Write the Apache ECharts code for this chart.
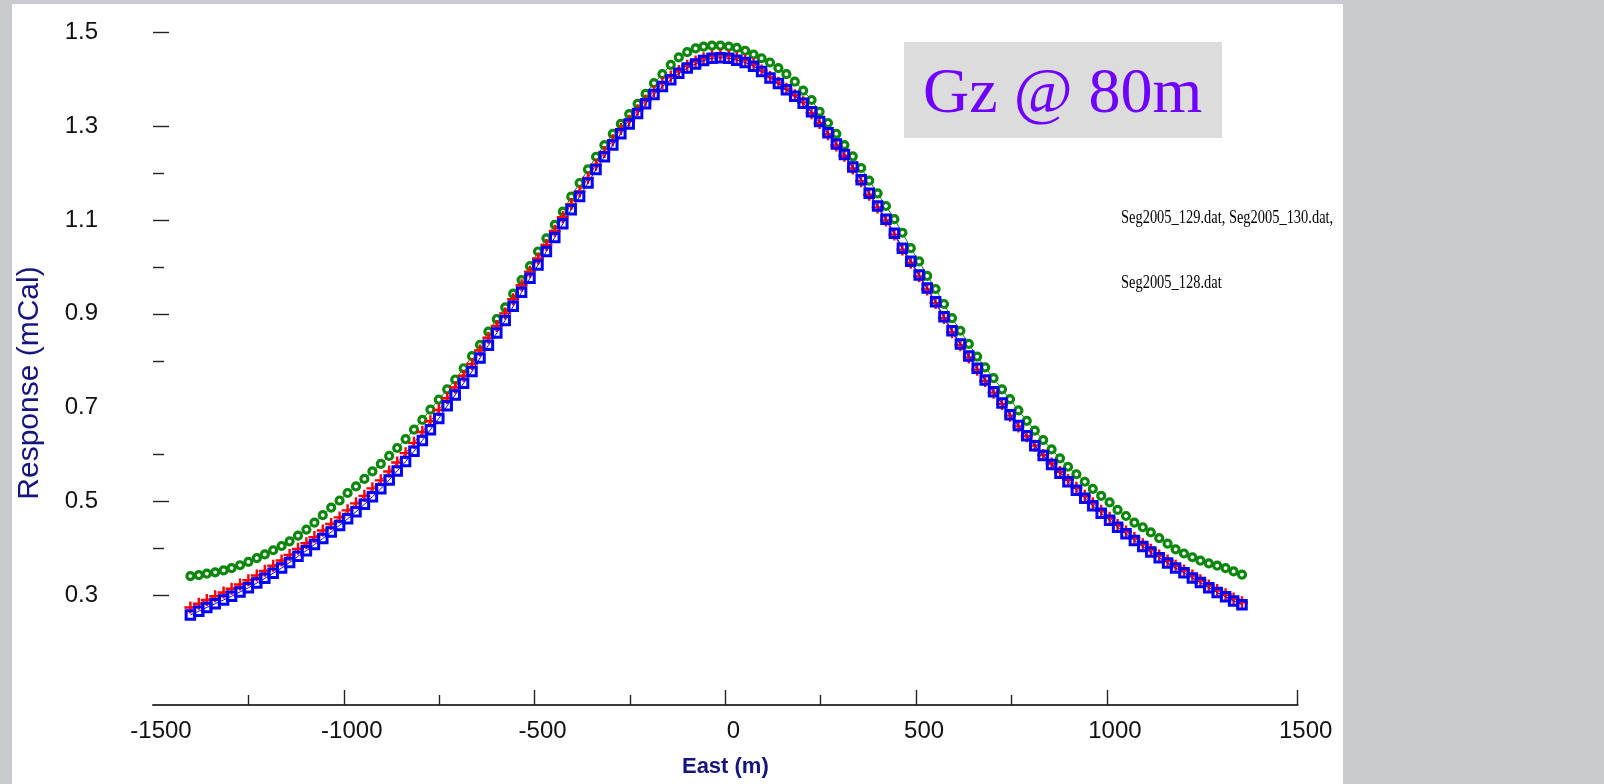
<!DOCTYPE html>
<html>
<head>
<meta charset="utf-8">
<title>Gz @ 80m</title>
<script src="https://cdn.jsdelivr.net/npm/echarts@6.0.0/dist/echarts.min.js"></script>
<style>
  html, body { margin: 0; padding: 0; width: 1604px; height: 784px; overflow: hidden; background: #cacbcf; }
  #panel { position: absolute; left: 12px; top: 4px; width: 1331px; height: 780px; background: #ffffff; }
  #chart { position: absolute; left: 0; top: 0; width: 1604px; height: 784px; }
</style>
</head>
<body>
<div id="panel"></div>
<div id="chart"></div>
<script>
// Survey stations along the profile (m, East)
const EAST_M = [
  -1402,-1380,-1359,-1337,-1315,-1294,-1272,-1250,-1228,-1207,
  -1185,-1163,-1142,-1120,-1098,-1077,-1055,-1033,-1011,-990,
  -968,-946,-925,-903,-881,-860,-838,-816,-794,-773,
  -751,-729,-708,-686,-664,-643,-621,-599,-577,-556,
  -534,-512,-491,-469,-447,-426,-404,-382,-360,-339,
  -317,-295,-274,-252,-230,-209,-187,-165,-143,-122,
  -100,-78,-57,-35,-13,9,30,52,74,95,
  117,139,160,182,204,226,247,269,291,312,
  334,356,377,399,421,443,464,486,508,529,
  551,573,594,616,638,660,681,703,725,746,
  768,790,811,833,855,877,898,920,942,963,
  985,1007,1028,1050,1072,1094,1115,1137,1159,1180,
  1202,1224,1245,1267,1289,1311,1332,1354
];

// Gz response (mCal) per file
const SEG_129 = [
  0.341,0.343,0.346,0.349,0.353,0.358,0.364,0.371,0.379,0.387,
  0.396,0.405,0.415,0.427,0.440,0.455,0.471,0.487,0.502,0.518,
  0.532,0.548,0.564,0.580,0.597,0.614,0.633,0.653,0.674,0.696,
  0.717,0.739,0.760,0.784,0.810,0.834,0.862,0.889,0.914,0.943,
  0.972,1.002,1.033,1.061,1.090,1.118,1.150,1.179,1.208,1.235,
  1.260,1.284,1.305,1.326,1.348,1.369,1.392,1.411,1.431,1.447,
  1.458,1.466,1.470,1.472,1.472,1.470,1.467,1.461,1.453,1.445,
  1.436,1.424,1.411,1.395,1.376,1.356,1.331,1.307,1.284,1.260,
  1.236,1.211,1.184,1.157,1.130,1.102,1.073,1.040,1.012,0.981,
  0.953,0.921,0.891,0.864,0.836,0.809,0.786,0.763,0.739,0.718,
  0.694,0.672,0.651,0.631,0.611,0.592,0.574,0.558,0.542,0.527,
  0.512,0.498,0.482,0.469,0.455,0.445,0.434,0.422,0.410,0.398,
  0.389,0.381,0.374,0.368,0.363,0.358,0.351,0.344
];

const SEG_130 = [
  0.274,0.282,0.290,0.298,0.306,0.314,0.323,0.332,0.342,0.352,
  0.363,0.374,0.386,0.399,0.411,0.424,0.438,0.452,0.466,0.481,
  0.496,0.512,0.528,0.545,0.564,0.583,0.603,0.625,0.648,0.671,
  0.695,0.720,0.743,0.768,0.793,0.822,0.849,0.874,0.901,0.931,
  0.961,0.990,1.018,1.047,1.077,1.106,1.134,1.161,1.190,1.218,
  1.245,1.270,1.294,1.312,1.334,1.355,1.375,1.392,1.406,1.418,
  1.429,1.438,1.445,1.450,1.451,1.450,1.446,1.441,1.433,1.419,
  1.405,1.393,1.380,1.366,1.351,1.328,1.307,1.283,1.259,1.237,
  1.210,1.183,1.154,1.127,1.099,1.069,1.037,1.009,0.980,0.952,
  0.923,0.891,0.861,0.833,0.807,0.781,0.757,0.732,0.708,0.683,
  0.660,0.639,0.619,0.599,0.581,0.563,0.546,0.529,0.512,0.496,
  0.480,0.465,0.450,0.436,0.422,0.409,0.397,0.385,0.374,0.363,
  0.353,0.342,0.332,0.321,0.311,0.302,0.293,0.285
];

const SEG_128 = [
  0.258,0.266,0.274,0.282,0.290,0.298,0.307,0.316,0.326,0.336,
  0.347,0.358,0.370,0.383,0.395,0.408,0.421,0.435,0.449,0.463,
  0.478,0.494,0.510,0.527,0.546,0.565,0.585,0.607,0.630,0.653,
  0.677,0.704,0.727,0.752,0.777,0.806,0.833,0.859,0.886,0.916,
  0.946,0.976,1.004,1.033,1.063,1.092,1.122,1.150,1.179,1.208,
  1.235,1.260,1.284,1.305,1.327,1.348,1.368,1.385,1.399,1.413,
  1.424,1.433,1.440,1.445,1.446,1.445,1.441,1.436,1.428,1.417,
  1.403,1.391,1.378,1.364,1.349,1.331,1.310,1.286,1.262,1.240,
  1.213,1.186,1.157,1.130,1.102,1.072,1.040,1.012,0.983,0.955,
  0.926,0.894,0.864,0.836,0.810,0.784,0.759,0.734,0.710,0.685,
  0.662,0.640,0.619,0.598,0.579,0.560,0.542,0.524,0.507,0.491,
  0.475,0.460,0.445,0.431,0.417,0.404,0.392,0.380,0.369,0.358,
  0.348,0.337,0.327,0.316,0.306,0.297,0.288,0.280
];

// Axis labels and tick marks
const X_LABELS = [-1500, -1000, -500, 0, 500, 1000, 1500];
const X_MAJOR_TICKS = [-1000, -500, 0, 500, 1000, 1500];
const X_MINOR_TICKS = [-1250, -750, -250, 250, 750];
const Y_LABELS = [0.3, 0.5, 0.7, 0.9, 1.1, 1.3, 1.5];
const Y_MAJOR_TICKS = [0.3, 0.5, 0.9, 1.1, 1.3, 1.5];
const Y_MINOR_TICKS = [0.4, 0.6, 0.8, 1.0, 1.2];

const TITLE_TEXT = 'Gz @ 80m';
const FILE_LINES = ['Seg2005_129.dat, Seg2005_130.dat,', 'Seg2005_128.dat'];

const pairs = (ys) => EAST_M.map((x, i) => [x, ys[i]]);

const X_MIN = -1500, X_MAX = 1500;
const Y_MIN = 0.066, Y_MAX = 1.53;

const PLUS = 'path://M4,0L6,0L6,4L10,4L10,6L6,6L6,10L4,10L4,6L0,6L0,4L4,4Z';
const AXIS_NAVY = '#15157f';
const SANS = '"Liberation Sans", Arial, Helvetica, sans-serif';
const SERIF = '"Liberation Serif", "Times New Roman", serif';

const chart = echarts.init(document.getElementById('chart'), null, { renderer: 'canvas' });

chart.setOption({
  animation: false,
  backgroundColor: 'transparent',
  grid: { left: 153, right: 306.3, top: 18.4, bottom: 79, outerBoundsMode: 'none' },
  xAxis: [
    {
      type: 'value', min: X_MIN, max: X_MAX, position: 'bottom',
      axisLine: { show: true, onZero: false, lineStyle: { color: '#3a3a3a', width: 2 } },
      axisTick: { show: true, inside: true, length: 15, customValues: X_MAJOR_TICKS,
                  lineStyle: { color: '#222', width: 1.4 } },
      axisLabel: { show: true, customValues: X_LABELS, margin: 14, padding: [0, 0, 0, 16],
                   formatter: (v) => String(v), color: '#111', fontSize: 24, fontFamily: SANS },
      splitLine: { show: false },
      name: 'East (m)', nameLocation: 'middle', nameGap: 51,
      nameTextStyle: { color: AXIS_NAVY, fontSize: 22, fontWeight: 'bold', fontFamily: SANS }
    },
    {
      type: 'value', min: X_MIN, max: X_MAX, position: 'bottom',
      axisLine: { show: false, onZero: false },
      axisTick: { show: true, inside: true, length: 10, customValues: X_MINOR_TICKS,
                  lineStyle: { color: '#222', width: 1.4 } },
      axisLabel: { show: false },
      splitLine: { show: false }
    }
  ],
  yAxis: [
    {
      type: 'value', min: Y_MIN, max: Y_MAX, position: 'left',
      axisLine: { show: false, onZero: false },
      axisTick: { show: true, inside: true, length: 16, customValues: Y_MAJOR_TICKS,
                  lineStyle: { color: '#222', width: 1.4 } },
      axisLabel: { show: true, customValues: Y_LABELS, margin: 55,
                   formatter: (v) => Number(v).toFixed(1), color: '#111', fontSize: 24, fontFamily: SANS },
      splitLine: { show: false }
    },
    {
      type: 'value', min: Y_MIN, max: Y_MAX, position: 'left',
      axisLine: { show: false, onZero: false },
      axisTick: { show: true, inside: true, length: 11, customValues: Y_MINOR_TICKS,
                  lineStyle: { color: '#222', width: 1.4 } },
      axisLabel: { show: false },
      splitLine: { show: false }
    }
  ],
  series: [
    {
      name: 'Seg2005_129.dat', type: 'line', xAxisIndex: 0, yAxisIndex: 0,
      data: pairs(SEG_129), showAllSymbol: true,
      symbol: 'circle', symbolSize: 7,
      lineStyle: { color: '#0b870b', width: 1 },
      itemStyle: { color: '#ffffff', borderColor: '#0b870b', borderWidth: 3.2 },
      z: 2
    },
    {
      name: 'Seg2005_130.dat', type: 'line', xAxisIndex: 0, yAxisIndex: 0,
      data: pairs(SEG_130), showAllSymbol: true,
      symbol: PLUS, symbolSize: 12,
      lineStyle: { color: '#ff0000', width: 1 },
      itemStyle: { color: '#ff0000', borderWidth: 0 },
      z: 3
    },
    {
      name: 'Seg2005_128.dat', type: 'line', xAxisIndex: 0, yAxisIndex: 0,
      data: pairs(SEG_128), showAllSymbol: true,
      symbol: 'rect', symbolSize: 8.5,
      lineStyle: { color: '#0000ff', width: 1 },
      itemStyle: { color: 'rgba(255,255,255,0)', borderColor: '#0000ff', borderWidth: 3 },
      z: 4
    }
  ],
  graphic: [
    { type: 'rect', shape: { x: 904, y: 42, width: 318, height: 96 }, style: { fill: '#dcdcdc' }, z: 1 },
    { type: 'text', x: 923, y: 95, z: 2,
      style: { text: TITLE_TEXT, font: '64px ' + SERIF, fill: '#6f00ff', textAlign: 'left', textVerticalAlign: 'middle' } },
    { type: 'text', x: 1121, y: 218, scaleX: 0.76, z: 2,
      style: { text: FILE_LINES[0], font: '19px ' + SERIF, fill: '#000', textAlign: 'left', textVerticalAlign: 'middle' } },
    { type: 'text', x: 1121, y: 283, scaleX: 0.76, z: 2,
      style: { text: FILE_LINES[1], font: '19px ' + SERIF, fill: '#000', textAlign: 'left', textVerticalAlign: 'middle' } },
    { type: 'text', x: 30, y: 383, rotation: Math.PI / 2, z: 2,
      style: { text: 'Response (mCal)', font: '30px ' + SANS, fill: AXIS_NAVY, textAlign: 'center', textVerticalAlign: 'middle' } }
  ]
});
</script>
</body>
</html>
